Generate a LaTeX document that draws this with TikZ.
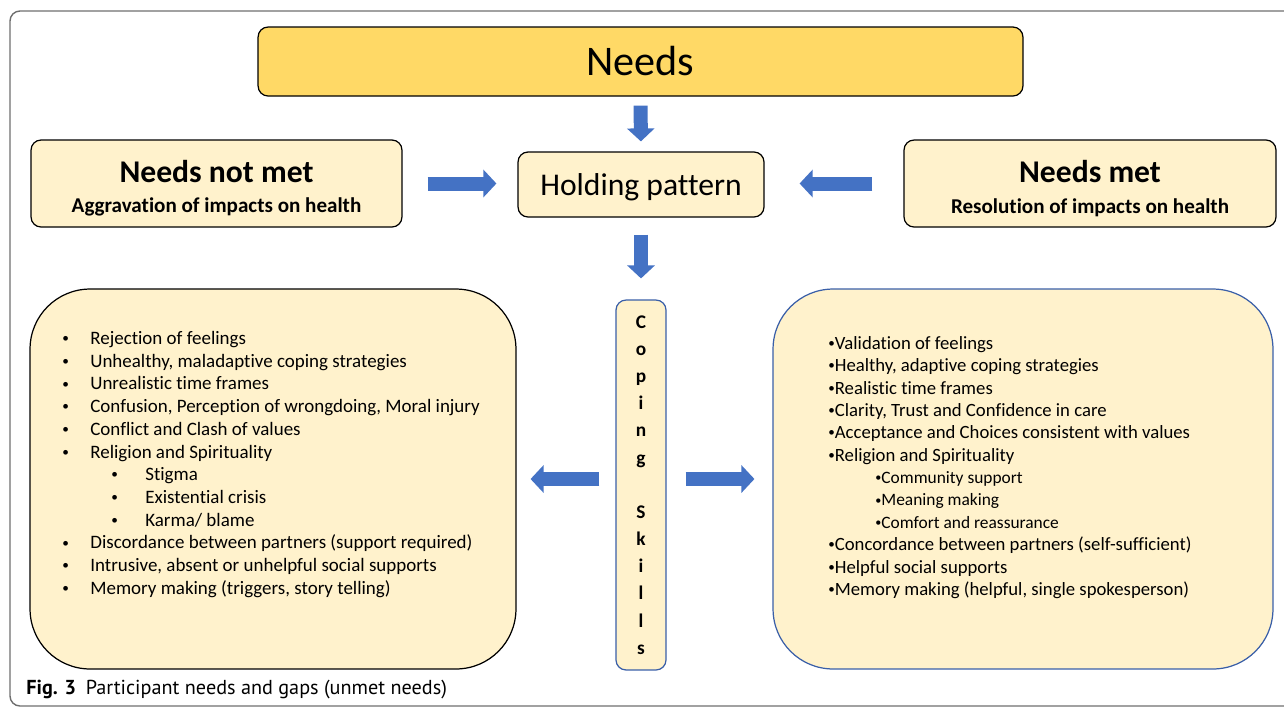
\documentclass[tikz,border=0pt]{standalone}
\usepackage{fontspec}
\setmainfont{Carlito}[Ligatures=NoCommon]
\newfontfamily\capfont{PT Sans}
\usepackage{graphicx}
\usepackage{xcolor}
\usepackage{tikz}
\usetikzlibrary{arrows.meta,positioning}

\definecolor{needgold}{HTML}{FFD966}
\definecolor{paleyellow}{HTML}{FFF2CC}
\definecolor{arrowblue}{HTML}{4472C4}
\definecolor{edgeblue}{HTML}{3A5FA8}
\definecolor{framegray}{HTML}{6E6E6E}

\newcommand{\smallbul}{\raisebox{0.1em}{\scalebox{0.7}{\textbullet}}}
\newcommand{\negbul}{\makebox[0.56cm][l]{\smallbul}}
\newcommand{\negsubbul}{\hspace*{0.98cm}\makebox[0.68cm][l]{\smallbul}}
\newcommand{\possub}[1]{\hspace*{0.94cm}{\fontsize{9.9}{12.73}\selectfont\smallbul#1}}

\tikzset{
  smallbox/.style={draw=black,line width=0.7pt,fill=paleyellow,rounded corners=0.2cm,inner sep=0pt},
  bigbox/.style={draw=black,line width=0.7pt,fill=paleyellow,rounded corners=1.2cm,inner sep=0pt},
  blockarrow/.style={arrowblue,line width=0.28cm,-{Triangle[length=0.26cm,width=0.54cm]}},
  listtext/.style={align=left,anchor=north west,inner sep=0pt}
}

\begin{document}
\begin{tikzpicture}[x=0.02cm,y=-0.02cm]
\useasboundingbox (0,0) rectangle (1284,708);

% Outer frame
\draw[framegray,line width=0.8pt,rounded corners=0.2cm] (10,11) rectangle (1320,706);

% Top row
\node[smallbox,fill=needgold,minimum width=15.3cm,minimum height=1.38cm,
  font=\fontsize{24}{29}\selectfont] (needs) at (640.5,61.5) {Needs};

\node[smallbox,minimum width=7.42cm,minimum height=1.74cm,align=center] (notmet) at (216.5,183.5)
  {{\fontsize{18}{22}\selectfont\bfseries\rule{0pt}{18pt}Needs not met}\\[5.5pt]
   {\fontsize{12}{14}\selectfont\bfseries Aggravation of impacts on health}};

\node[smallbox,minimum width=4.92cm,minimum height=1.3cm,text height=13pt,text depth=0pt,
  font=\fontsize{18}{22}\selectfont] (hold) at (641,184.5) {Holding pattern};

\node[smallbox,minimum width=7.44cm,minimum height=1.74cm,align=center] (met) at (1090,183.5)
  {{\fontsize{18}{22}\selectfont\bfseries\rule{0pt}{18pt}Needs met}\\[5.5pt]
   {\fontsize{12}{14}\selectfont\bfseries Resolution of impacts on health}};

% Coping skills column
\node[smallbox,draw=edgeblue,minimum width=1.0cm,minimum height=7.4cm,align=center,
  font=\bfseries\fontsize{11}{15.45}\selectfont] (coping) at (641,485)
  {C\\o\\p\\i\\n\\g\\[15.45pt]S\\k\\i\\l\\l\\s};

% Unmet and met needs
\node[bigbox,minimum width=9.72cm,minimum height=7.6cm] (neg) at (273,479) {};
\node[bigbox,draw=edgeblue,minimum width=10.0cm,minimum height=7.6cm] (pos) at (1023,479) {};

\node[listtext,font=\fontsize{10.8}{12.93}\selectfont] (negtext) at (62,331) {%
  \negbul Rejection of feelings\\
  \negbul Unhealthy, maladaptive coping strategies\\
  \negbul Unrealistic time frames\\
  \negbul Confusion, Perception of wrongdoing, Moral injury\\
  \negbul Conflict and Clash of values\\
  \negbul Religion and Spirituality\\
  \negsubbul Stigma\\
  \negsubbul Existential crisis\\
  \negsubbul Karma/ blame\\
  \negbul Discordance between partners (support required)\\
  \negbul Intrusive, absent or unhelpful social supports\\
  \negbul Memory making (triggers, story telling)};

\node[listtext,font=\fontsize{10.65}{12.73}\selectfont] (postext) at (828,336) {%
  \smallbul Validation of feelings\\
  \smallbul Healthy, adaptive coping strategies\\
  \smallbul Realistic time frames\\
  \smallbul Clarity, Trust and Confidence in care\\
  \smallbul Acceptance and Choices consistent with values\\
  \smallbul Religion and Spirituality\\
  \possub{Community support}\\
  \possub{Meaning making}\\
  \possub{Comfort and reassurance}\\
  \smallbul Concordance between partners (self-sufficient)\\
  \smallbul Helpful social supports\\
  \smallbul Memory making (helpful, single spokesperson)};

% Block arrows
\draw[blockarrow,shorten <=0.18cm,shorten >=0.2cm] (needs.south) -- (hold.north);
\draw[blockarrow,shorten <=0.34cm,shorten >=0.42cm] (hold.south) -- (hold.south |- coping.north);
\draw[blockarrow,shorten <=0.5cm,shorten >=0.42cm] (notmet.east) -- (notmet.east -| hold.west);
\draw[blockarrow,shorten <=0.62cm,shorten >=0.7cm] (met.west) -- (met.west -| hold.east);
\draw[blockarrow,shorten <=0.32cm,shorten >=0.28cm] (coping.west |- neg.east) -- (neg.east);
\draw[blockarrow,shorten <=0.38cm,shorten >=0.36cm] (coping.east |- pos.west) -- (pos.west);

% Caption
\node[anchor=west,inner sep=0pt,font=\capfont\fontsize{11.5}{13}\selectfont] (caption) at (26,690)
  {\textbf{Fig. 3}\hspace{5.5pt}Participant needs and gaps (unmet needs)};

\end{tikzpicture}
\end{document}
